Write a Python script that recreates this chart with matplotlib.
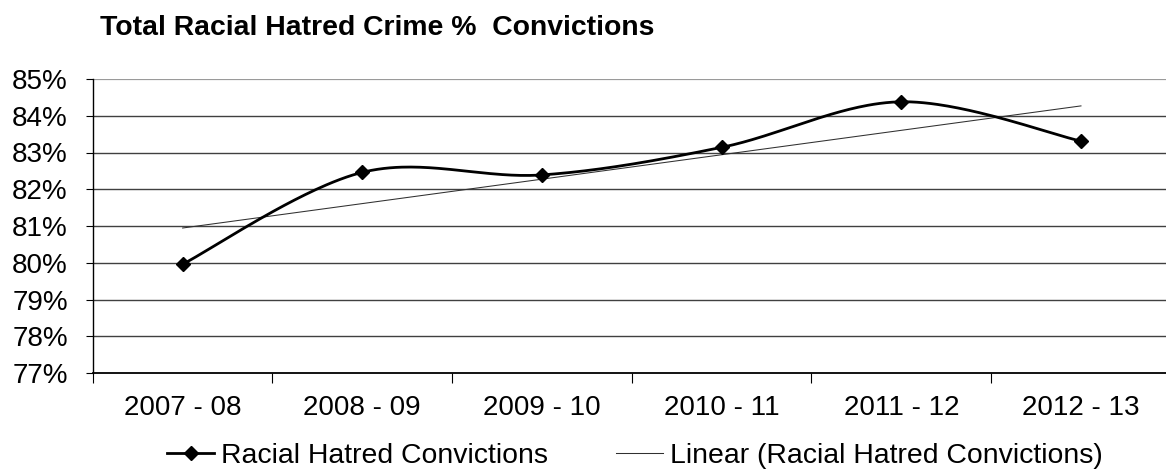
import numpy as np
import matplotlib
matplotlib.use('Agg')
import matplotlib.pyplot as plt
from matplotlib.lines import Line2D

plt.rcParams['font.family'] = ['Liberation Sans', 'DejaVu Sans']

years = ['2007 - 08', '2008 - 09', '2009 - 10', '2010 - 11', '2011 - 12', '2012 - 13']
convictions = [79.96, 82.46, 82.39, 83.14, 84.38, 83.31]   # % convicted
y_ticks = [77, 78, 79, 80, 81, 82, 83, 84, 85]


def smooth_curve(xs, ys, n=60):
    # bezier smoothing like the spreadsheet "smoothed line" option
    xs = np.asarray(xs, float)
    ys = np.asarray(ys, float)
    px = np.concatenate([[xs[0]], xs, [xs[-1]]])
    py = np.concatenate([[ys[0]], ys, [ys[-1]]])
    out_x, out_y = [], []
    t = np.linspace(0, 1, n)
    for i in range(1, len(px) - 2):
        p0 = np.array([px[i], py[i]])
        p3 = np.array([px[i + 1], py[i + 1]])
        c1 = p0 + (p3 - np.array([px[i - 1], py[i - 1]])) / 6
        c2 = p3 - (np.array([px[i + 2], py[i + 2]]) - p0) / 6
        b = ((1 - t) ** 3)[:, None] * p0 + (3 * (1 - t) ** 2 * t)[:, None] * c1 \
            + (3 * (1 - t) * t ** 2)[:, None] * c2 + (t ** 3)[:, None] * p3
        out_x.extend(b[:, 0])
        out_y.extend(b[:, 1])
    return np.array(out_x), np.array(out_y)


x = np.arange(len(years))
sx, sy = smooth_curve(x, convictions)
k, b = np.polyfit(x, convictions, 1)
trend_x = np.array([x[0], x[-1]])
trend_y = k * trend_x + b

fig = plt.figure(figsize=(11.66, 4.74), dpi=100)
ax = fig.add_axes([92.8 / 1166, 1 - 373 / 474, 1078 / 1166, 294 / 474])

for v in y_ticks[1:-1]:
    ax.axhline(v, color='#404040', lw=1.0, zorder=1)
ax.axhline(85, color='#9a9a9a', lw=1.6, zorder=1)

ax.plot(trend_x, trend_y, color='#303030', lw=0.75, zorder=2)
ax.plot(sx, sy, color='black', lw=2.0, zorder=3)
ax.plot(x, convictions, linestyle='none', marker='D', ms=7, color='black', zorder=4)

ax.set_xlim(-0.5, 5.5)
ax.set_ylim(77, 85)
ax.set_yticks(y_ticks)
ax.set_yticklabels([f'{v}%' for v in y_ticks])
ax.set_xticks(np.arange(-0.5, 6, 1))
ax.set_xticklabels([])
ax.set_xticks(x, minor=True)
ax.set_xticklabels(years, minor=True)
ax.tick_params(axis='x', which='major', length=7.5, width=0.8, color='black')
ax.tick_params(axis='x', which='minor', length=0, pad=16, labelsize=20)
ax.tick_params(axis='y', length=5, width=0.8, pad=13, labelsize=20)

for s in ['top', 'right']:
    ax.spines[s].set_visible(False)
ax.spines['left'].set_color('black')
ax.spines['left'].set_linewidth(1.0)
ax.spines['bottom'].set_color('black')
ax.spines['bottom'].set_linewidth(1.3)

fig.text(100 / 1166, 1 - 35 / 474, 'Total Racial Hatred Crime %  Convictions',
         fontsize=20.4, fontweight='bold', va='baseline', ha='left')

handles = [
    Line2D([], [], color='black', lw=2.0, marker='D', ms=7),
    Line2D([], [], color='#303030', lw=0.75),
]
fig.legend(handles, ['Racial Hatred Convictions', 'Linear (Racial Hatred Convictions)'],
           loc='center', bbox_to_anchor=(635 / 1166, 1 - 456 / 474), ncol=2,
           frameon=False, fontsize=20.4, handlelength=1.65, handletextpad=0.25,
           columnspacing=2.4, borderaxespad=0, borderpad=0)

fig.savefig('out.png', dpi=100)
